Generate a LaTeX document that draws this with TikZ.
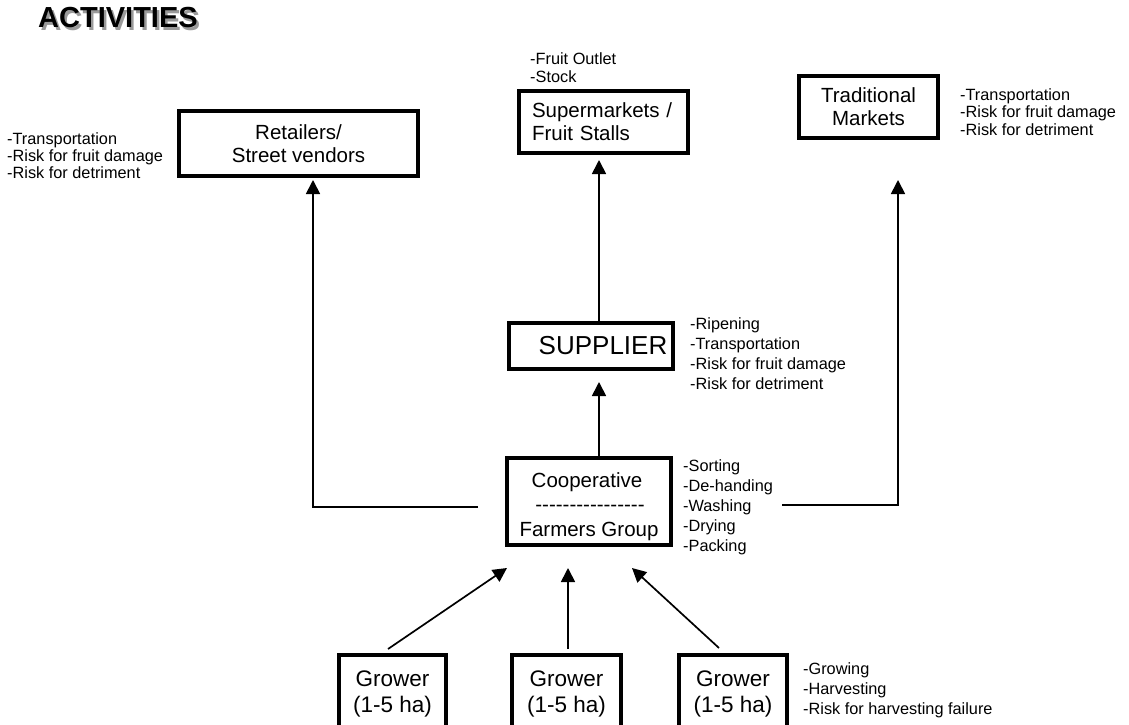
\documentclass[tikz,border=0pt]{standalone}
\usepackage{fontspec}
\setmainfont{Liberation Sans}
\usetikzlibrary{arrows.meta}
\definecolor{shadowgray}{HTML}{9A9A9A}
\begin{document}
\begin{tikzpicture}[x=1pt,y=-1pt,
  box/.style={draw, line width=4pt, inner sep=0pt, align=center,
    font=\fontsize{20.5}{23}\selectfont},
  boxtext/.style={inner sep=0pt, anchor=base, font=\fontsize{20.5}{23}\selectfont},
  note/.style={inner sep=0pt, anchor=north west, align=left},
  flow/.style={line width=1.7pt, -{Triangle[length=14pt,width=14pt]}},
  titletext/.style={inner sep=0pt, anchor=base west,
    font=\fontsize{29}{29}\selectfont\bfseries}]
\clip (0,0) rectangle (1129,725);

% heading, set over a grey drop shadow
\node[titletext] (title) at (38,28)
  {\rlap{\kern2.5pt\raisebox{-2.5pt}{\textcolor{shadowgray}{ACTIVITIES}}}ACTIVITIES};

% market boxes
\node[box, minimum width=239pt, minimum height=65pt] (retail) at (298.5,143.5)
  {Retailers/\\Street vendors};
\node[box, minimum width=169pt, minimum height=62pt, align=left,
  text width=143pt, inner xsep=13pt] (super) at (603.5,122)
  {\fontsize{20.5}{24}\selectfont Supermarkets /\\Fruit Stalls};
\node[box, minimum width=139pt, minimum height=62pt] (trad) at (868.5,107)
  {Traditional\\Markets};

% supplier
\node[box, minimum width=164pt, minimum height=46pt,
  font=\fontsize{26}{28}\selectfont] (supplier) at (591,346)
  {\hspace*{24pt}SUPPLIER};

% cooperative box with its three text rows
\node[box, minimum width=164pt, minimum height=87pt] (coop) at (589,501.5) {};
\node[boxtext] (coopname) at (587,487) {Cooperative};
\node[boxtext] (coopsep) at (590,511) {-{}-{}-{}-{}-{}-{}-{}-{}-{}-{}-{}-{}-{}-{}-{}-};
\node[boxtext] (coopgroup) at (589,536) {Farmers Group};

% growers (boxes run past the lower edge)
\foreach \n/\x/\w in {1/392.5/107, 2/566.5/109, 3/733/108}{
  \node[box, minimum width=\w pt, minimum height=78pt,
    font=\fontsize{22.5}{26}\selectfont] (grower\n) at (\x,694)
    {Grower\\(1-5 ha)};
}

% activity lists
\node[note, font=\fontsize{16.3}{17}\selectfont] (retailnotes) at (7,132)
  {-Transportation\\-Risk for fruit damage\\-Risk for detriment};
\node[note, font=\fontsize{16.3}{18.5}\selectfont] (supernotes) at (530,52)
  {-Fruit Outlet\\-Stock};
\node[note, font=\fontsize{16.3}{17.7}\selectfont] (tradnotes) at (960,88)
  {-Transportation\\-Risk for fruit damage\\-Risk for detriment};
\node[note, font=\fontsize{16.3}{20}\selectfont] (suppliernotes) at (690,317)
  {-Ripening\\-Transportation\\-Risk for fruit damage\\-Risk for detriment};
\node[note, font=\fontsize{16.3}{20}\selectfont] (coopnotes) at (683,459)
  {-Sorting\\-De-handing\\-Washing\\-Drying\\-Packing};
\node[note, font=\fontsize{16.3}{20}\selectfont] (growernotes) at (803,662)
  {-Growing\\-Harvesting\\-Risk for harvesting failure};

% connector end points
\coordinate (retailfrom) at (478,507);
\coordinate (retailtip) at (313,180);
\coordinate (supertip) at (599,160);
\coordinate (suppliertip) at (599,382);
\coordinate (tradfrom) at (782,505);
\coordinate (tradtip) at (898,180);
\coordinate (g1from) at (388,649);
\coordinate (g1tip) at (507,568);
\coordinate (g2from) at (568,649);
\coordinate (g2tip) at (568,568);
\coordinate (g3from) at (719,648);
\coordinate (g3tip) at (632,568);

% flows
\draw[flow] (retailfrom) -| (retailtip);
\draw[flow] (supplier.north -| supertip) -- (supertip);
\draw[flow] (coop.north -| suppliertip) -- (suppliertip);
\draw[flow] (tradfrom) -| (tradtip);
\draw[flow] (g1from) -- (g1tip);
\draw[flow] (g2from) -- (g2tip);
\draw[flow] (g3from) -- (g3tip);
\end{tikzpicture}
\end{document}
